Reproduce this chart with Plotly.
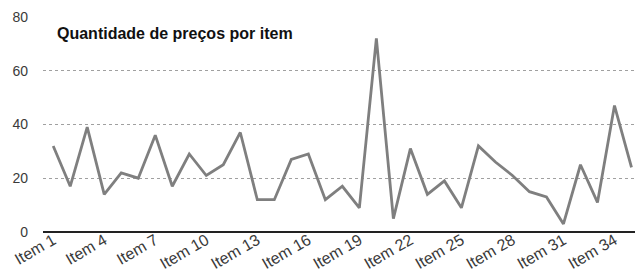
import plotly.graph_objects as go

items = [f"Item {i}" for i in range(1, 36)]
values = [32, 17, 39, 14, 22, 20, 36, 17, 29, 21, 25, 37, 12, 12, 27, 29, 12, 17, 9, 72,
          5, 31, 14, 19, 9, 32, 26, 21, 15, 13, 3, 25, 11, 47, 24]
tick_labels = [f"Item {i}" for i in range(1, 36, 3)]
y_ticks = [0, 20, 40, 60, 80]
title_text = "Quantidade de preços por item"

FONT = "Liberation Sans, Arial, sans-serif"

# the page body has an 8px default margin, so the figure is sized to fit the window
fig = go.Figure()
fig.add_trace(go.Scatter(
    x=items, y=values, mode="lines",
    line=dict(color="#7f7f7f", width=2.8),
    showlegend=False,
))

fig.update_layout(
    width=635, height=272,
    margin=dict(l=35, r=3, t=8, b=48, autoexpand=False),
    paper_bgcolor="white", plot_bgcolor="white",
    font=dict(family=FONT, color="#444444", size=13),
    showlegend=False,
)

fig.add_annotation(
    text=f"<b>{title_text}</b>", xref="paper", yref="paper",
    x=(55 - 43) / 597, y=1 - (33 - 16) / 216, xanchor="left", yanchor="middle",
    showarrow=False, font=dict(family=FONT, size=16, color="#111111"),
)

fig.update_xaxes(
    type="category", categoryorder="array", categoryarray=items,
    range=[-0.6, 34.5], automargin=False,
    tickmode="array", tickvals=tick_labels, ticktext=tick_labels,
    tickangle=-30, showgrid=False, ticks="",
    showline=False, zeroline=False, ticklabelstandoff=-5,
    tickfont=dict(size=16, color="#3a3a3a"),
)

fig.update_yaxes(
    range=[0, 80.3], tickvals=y_ticks, automargin=False,
    showgrid=True, gridcolor="#a0a0a0", gridwidth=1, griddash="dot",
    zeroline=True, zerolinecolor="#222222", zerolinewidth=2.2,
    showline=False, ticks="", ticklabelstandoff=14,
    tickfont=dict(size=14, color="#3a3a3a"),
)

fig.write_html("out.html")
